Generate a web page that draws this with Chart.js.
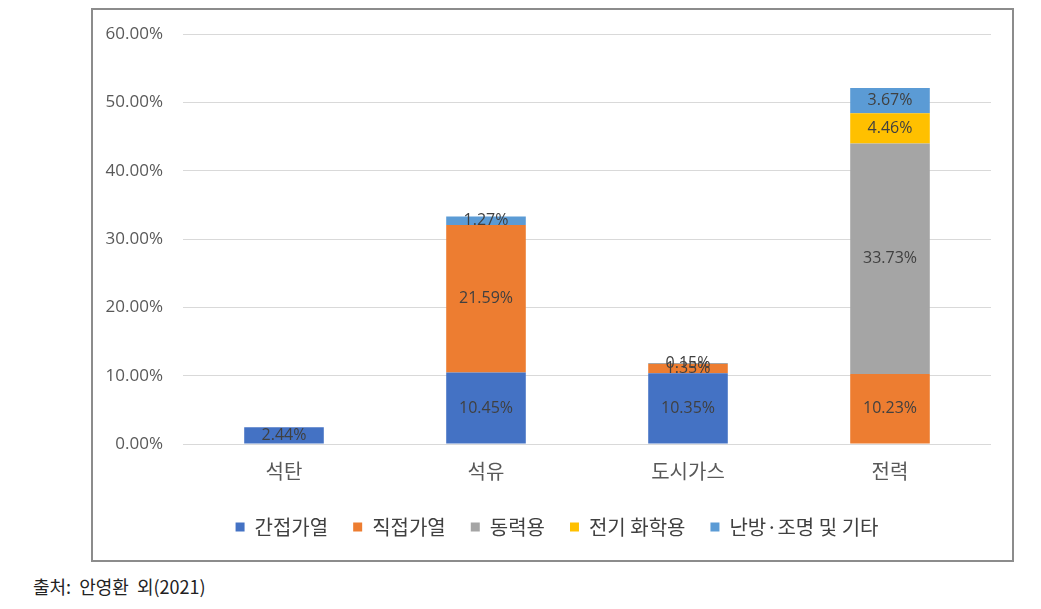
<!DOCTYPE html>
<html>
<head>
<meta charset="utf-8">
<script src="https://cdn.jsdelivr.net/npm/chart.js@4/dist/chart.umd.min.js"></script>
<style>
  html, body { margin: 0; padding: 0; background: #ffffff; }
  #frame { position: absolute; left: 91px; top: 8px; width: 919px; height: 550px; border: 2px solid #8c8c8c; }
  #c { position: absolute; left: 0; top: 0; }
  #src { position: absolute; left: 33px; top: 573px; font-family: "Noto Sans CJK KR", sans-serif; font-size: 18px; color: #222; white-space: pre; }
</style>
</head>
<body>
<div id="frame"><canvas id="c" width="919" height="550"></canvas></div>
<div id="src">출처:  안영환  외(2021)</div>
<script>
const categories = ['석탄', '석유', '도시가스', '전력'];
const seriesNames = ['간접가열', '직접가열', '동력용', '전기 화학용', '난방·조명 및 기타'];
const indirectHeat = [2.44, 10.45, 10.35, null];
const directHeat = [null, 21.59, 1.35, 10.23];
const power = [null, null, 0.15, 33.73];
const electroChem = [null, null, null, 4.46];
const heatingLighting = [null, 1.27, null, 3.67];
const yTicks = [0, 10, 20, 30, 40, 50, 60];
const colors = ['#4472C4', '#ED7D31', '#A5A5A5', '#FFC000', '#5B9BD5'];

const seriesData = [indirectHeat, directHeat, power, electroChem, heatingLighting];

const labelPlugin = {
  id: 'segLabels',
  afterLayout(chart) {
    if (chart.legend) { chart.legend.left += 15; chart.legend.right += 15; }
  },
  afterDatasetsDraw(chart) {
    const ctx = chart.ctx;
    ctx.save();
    ctx.font = '16px "Open Sans", sans-serif';
    ctx.fillStyle = '#404040';
    ctx.textAlign = 'center';
    ctx.textBaseline = 'middle';
    chart.data.datasets.forEach((ds, di) => {
      const meta = chart.getDatasetMeta(di);
      meta.data.forEach((el, i) => {
        const v = ds.data[i];
        if (v === null || v === undefined) return;
        const p = el.getProps(['x', 'y', 'base'], true);
        ctx.fillText(v.toFixed(2) + '%', p.x, (p.y + p.base) / 2);
      });
    });
    ctx.restore();
  }
};

new Chart(document.getElementById('c'), {
  type: 'bar',
  data: {
    labels: categories,
    datasets: seriesNames.map((n, i) => ({
      label: n,
      data: seriesData[i],
      backgroundColor: colors[i],
      borderWidth: 0,
      categoryPercentage: 1,
      barPercentage: 0.394
    }))
  },
  options: {
    responsive: false,
    animation: false,
    layout: { padding: { top: 24, right: 21, left: 0, bottom: 13 } },
    plugins: {
      legend: {
        position: 'bottom',
        labels: {
          boxWidth: 9, boxHeight: 9, padding: 25,
          color: '#404040',
          font: { size: 20, family: '"Noto Sans CJK KR", sans-serif' }
        }
      },
      tooltip: { enabled: false }
    },
    scales: {
      x: {
        stacked: true,
        grid: { display: false },
        border: { display: false },
        ticks: { color: '#595959', padding: 7, font: { size: 20, family: '"Noto Sans CJK KR", sans-serif' } },
        afterFit(s) { s.height = 48; }
      },
      y: {
        stacked: true,
        min: 0, max: 60,
        afterBuildTicks(s) { s.ticks = yTicks.map(v => ({ value: v })); },
        grid: { color: '#d9d9d9', lineWidth: 1, drawTicks: false },
        border: { display: false },
        ticks: {
          color: '#595959', padding: 20,
          font: { size: 17, family: '"Open Sans", sans-serif' },
          callback: v => v.toFixed(2) + '%'
        },
        afterFit(s) { s.width = 90; s.paddingTop = 0; s.paddingBottom = 0; }
      }
    }
  },
  plugins: [labelPlugin]
});
</script>
</body>
</html>
